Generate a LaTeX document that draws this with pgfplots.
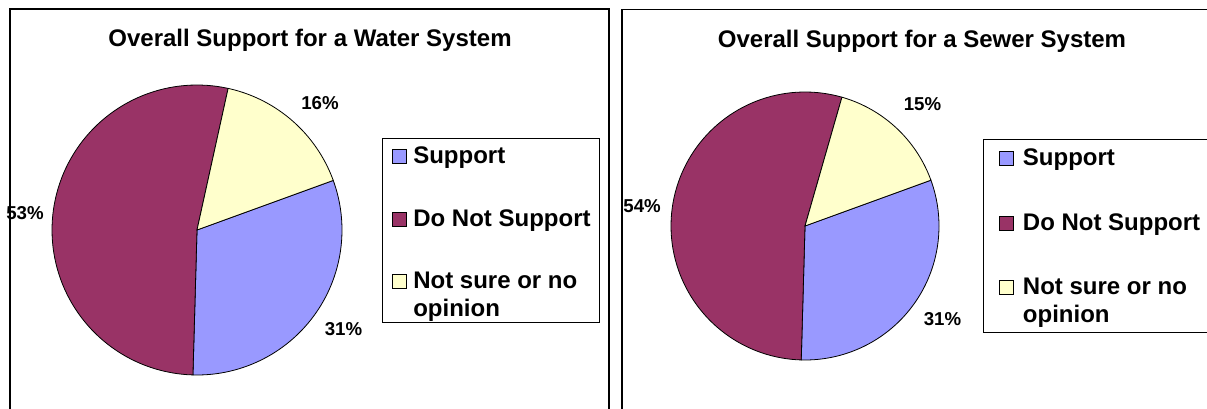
\documentclass[border=0pt]{standalone}
\usepackage{fontspec}
\setmainfont{Liberation Sans}
\usepackage{pgfplots}
\pgfplotsset{compat=1.18}
\definecolor{cSup}{HTML}{9999FF}
\definecolor{cNot}{HTML}{993366}
\definecolor{cUns}{HTML}{FFFFCC}
% Water system (percent)
\def\wA{31}\def\wB{53}\def\wC{16}
% Sewer system (percent)
\def\sA{31}\def\sB{54}\def\sC{15}
\def\startang{20}
\newcommand{\twolines}[2]{\vtop{\hbox{#1}\hbox{#2}}}
\pgfplotsset{
  panel/.style={
    axis lines=box, xtick=\empty, ytick=\empty, clip=false,
    axis line style={black, line width=0.9pt},
    anchor=origin,
    legend cell align=left,
    legend style={draw=black, line width=0.75pt, anchor=north west,
      font=\fontsize{18}{21}\selectfont\bfseries,
      cells={anchor=base west, inner sep=0pt},
      column sep=3pt, inner xsep=4.5pt, inner ysep=4pt},
  },
  sq/.style={legend image code/.code={\path (0pt,0pt); \draw[##1, line width=0.6pt] (#1,0pt) rectangle ({#1+10.5pt},10.5pt);}},
  slice/.style={draw=black, line width=0.6pt, samples=90},
}
\begin{document}
\begin{tikzpicture}
\pgfmathsetmacro{\wa}{\startang-\wA*3.6}
\pgfmathsetmacro{\wb}{\wa-\wB*3.6}
\pgfmathsetmacro{\wc}{\wb-\wC*3.6}
\pgfmathsetmacro{\sa}{\startang-\sA*3.6}
\pgfmathsetmacro{\sb}{\sa-\sB*3.6}
\pgfmathsetmacro{\sc}{\sb-\sC*3.6}
% ---------------- Water ----------------
\begin{axis}[panel, sq=2.5pt, at={(147.75pt,133.5pt)},
  x=108.75pt, y=108.75pt,
  xmin=-1.2897, xmax=2.8414, ymin=-1.45, ymax=1.5241,
  legend style={at={(axis cs:1.276,0.634)}, row sep=29pt}]
\addplot[slice, fill=cSup, domain=\wa:\startang] ({cos(x)},{sin(x)}) -- (axis cs:0,0) -- cycle;
\addlegendentry{Support}
\addplot[slice, fill=cNot, domain=\wb:\wa] ({cos(x)},{sin(x)}) -- (axis cs:0,0) -- cycle;
\addlegendentry{Do Not Support}
\addplot[slice, fill=cUns, domain=\wc:\wb] ({cos(x)},{sin(x)}) -- (axis cs:0,0) -- cycle;
\addlegendentry[text depth=19.5pt]{\twolines{Not sure or no}{opinion}}
\node[anchor=base, font=\fontsize{18}{21}\selectfont\bfseries] at (axis cs:0.7793,1.2621) {Overall Support for a Water System};
\node[font=\fontsize{14}{16}\selectfont\bfseries] at (axis cs:0.848,0.872) {16\%};
\node[font=\fontsize{14}{16}\selectfont\bfseries] at (axis cs:1.010,-0.686) {31\%};
\node[font=\fontsize{14}{16}\selectfont\bfseries] at (axis cs:-1.186,0.117) {53\%};
\end{axis}
% ---------------- Sewer ----------------
\begin{axis}[panel, sq=7pt, at={(603.75pt,136.5pt)},
  x=100.5pt, y=100.5pt,
  xmin=-1.3657, xmax=3.112, ymin=-1.6, ymax=1.6157,
  legend style={at={(axis cs:1.328,0.649)}, row sep=30.5pt, inner ysep=5pt, column sep=5pt}]
\addplot[slice, fill=cSup, domain=\sa:\startang] ({cos(x)},{sin(x)}) -- (axis cs:0,0) -- cycle;
\addlegendentry{Support}
\addplot[slice, fill=cNot, domain=\sb:\sa] ({cos(x)},{sin(x)}) -- (axis cs:0,0) -- cycle;
\addlegendentry{Do Not Support}
\addplot[slice, fill=cUns, domain=\sc:\sb] ({cos(x)},{sin(x)}) -- (axis cs:0,0) -- cycle;
\addlegendentry[text depth=21.5pt]{\twolines{Not sure or no}{opinion}}
\node[anchor=base, font=\fontsize{18}{21}\selectfont\bfseries] at (axis cs:0.8731,1.3358) {Overall Support for a Sewer System};
\node[font=\fontsize{14}{16}\selectfont\bfseries] at (axis cs:0.877,0.907) {15\%};
\node[font=\fontsize{14}{16}\selectfont\bfseries] at (axis cs:1.026,-0.694) {31\%};
\node[font=\fontsize{14}{16}\selectfont\bfseries] at (axis cs:-1.216,0.149) {54\%};
\end{axis}
\pgfresetboundingbox
\useasboundingbox (0pt,0pt) rectangle (905.25pt,306pt);
\end{tikzpicture}
\end{document}
